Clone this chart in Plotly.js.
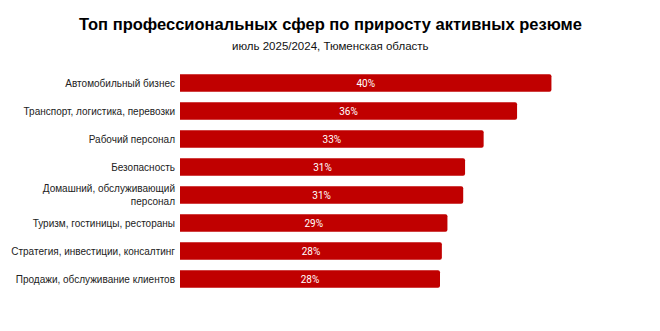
<!DOCTYPE html>
<html><head><meta charset="utf-8">
<script src="https://cdn.plot.ly/plotly-3.0.1.min.js"></script>
<style>html,body{margin:0;padding:0;background:#fff}</style>
</head><body>
<div id="chart" style="width:660px;height:331px"></div>
<script>
var categories = [
  "Автомобильный бизнес",
  "Транспорт, логистика, перевозки",
  "Рабочий персонал",
  "Безопасность",
  "Домашний, обслуживающий<br>персонал",
  "Туризм, гостиницы, рестораны",
  "Стратегия, инвестиции, консалтинг",
  "Продажи, обслуживание клиентов"
];
var values = [40.0, 36.3, 32.7, 30.7, 30.5, 28.8, 28.2, 28.0];
var labels = ["40%", "36%", "33%", "31%", "31%", "29%", "28%", "28%"];

var trace = {
  type: 'bar', orientation: 'h',
  x: values, y: categories,
  text: labels, textposition: 'inside', insidetextanchor: 'middle',
  textfont: {family: 'Roboto, sans-serif', size: 10, color: '#ffffff'},
  marker: {color: '#c00000', cornerradius: 2},
  hoverinfo: 'none'
};
var layout = {
  width: 660, height: 331,
  margin: {l: 180, r: 90, t: 69, b: 38},
  paper_bgcolor: '#fff', plot_bgcolor: '#fff',
  bargap: 0.37,
  showlegend: false,
  font: {family: 'Liberation Sans, Arial, sans-serif', color: '#222'},
  xaxis: {range: [0, 42], visible: false, showgrid: false, zeroline: false, fixedrange: true},
  yaxis: {autorange: 'reversed', showgrid: false, zeroline: false, showline: false, ticks: '',
          tickfont: {family: 'Liberation Sans, Arial, sans-serif', size: 10, color: '#222'},
          ticklabelstandoff: 4, fixedrange: true},
  annotations: [
    {text: '<b>Топ профессиональных сфер по приросту активных резюме</b>', xref: 'paper', yref: 'paper',
     x: 0.5, y: 1, xanchor: 'center', yanchor: 'middle', showarrow: false,
     font: {family: 'Liberation Sans, Arial, sans-serif', size: 16.5, color: '#000'}},
    {text: 'июль 2025/2024, Тюменская область', xref: 'paper', yref: 'paper',
     x: 0.5, y: 1, xanchor: 'center', yanchor: 'middle', showarrow: false,
     font: {family: 'Liberation Sans, Arial, sans-serif', size: 11.5, color: '#111'}}
  ]
};
var plotH = 331 - 69 - 38;
layout.annotations[0].y = 1 + (69 - 24) / plotH;
layout.annotations[1].y = 1 + (69 - 46) / plotH;
var plotW = 660 - 180 - 90;
layout.annotations[0].x = (330 - 180) / plotW;
layout.annotations[1].x = (330 - 180) / plotW;
Plotly.newPlot('chart', [trace], layout, {displayModeBar: false, staticPlot: true});
</script>
</body></html>
